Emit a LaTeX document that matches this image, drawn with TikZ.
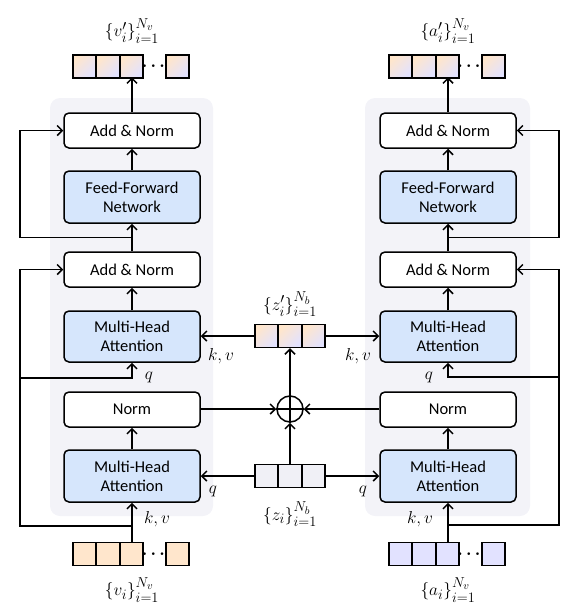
\documentclass[tikz,border=0pt]{standalone}
\usepackage{amsmath}
\usepackage{fontspec}
\setmainfont{Carlito}
\usepackage{tikz}
\usetikzlibrary{arrows.meta,calc}

\DeclareMathSizes{18}{18}{13.5}{10.5}

\definecolor{panelbg}{RGB}{243,243,248}
\definecolor{attblue}{RGB}{214,230,252}
\definecolor{tokorange}{RGB}{255,230,204}
\definecolor{toklav}{RGB}{226,226,255}
\definecolor{tokgray}{RGB}{240,240,246}

\newcommand{\tokset}[2]{$\{#1\}_{i=1}^{N_{#2}}$}

\tikzset{
  blk/.style={draw, rounded corners=5pt, line width=1.5pt, minimum width=136pt,
    align=center, fill=white, font=\fontsize{16.5}{19}\selectfont},
  thinblk/.style={blk, minimum height=35pt},
  attblk/.style={blk, fill=attblue, minimum height=52pt},
  tok/.style={draw, line width=1.4pt, minimum size=23pt, inner sep=0pt},
  tokmix/.style={tok, top color=tokorange, bottom color=toklav, shading angle=45},
  tokv/.style={tok, fill=tokorange},
  toka/.style={tok, fill=toklav},
  tokz/.style={tok, fill=tokgray},
  lbl/.style={font=\fontsize{17}{20}\selectfont, inner sep=0pt},
  setlbl/.style={font=\fontsize{18}{21}\selectfont, inner sep=0pt},
  conn/.style={line width=1.5pt, -{Straight Barb[length=5pt,width=10pt]}},
}

\begin{document}
\begin{tikzpicture}[x=1pt, y=-1pt]
  \useasboundingbox (0,0) rectangle (576,608);

  % panels
  \fill[panelbg, rounded corners=10pt] (50,98) rectangle (213,516);
  \fill[panelbg, rounded corners=10pt] (365,98) rectangle (530,516);

  % Left column
  \node[thinblk] (lan1) at (132,130.5) {Add \& Norm};
  \node[attblk] (lffn) at (132,197) {Feed-Forward\\Network};
  \node[thinblk] (lan2) at (132,269.5) {Add \& Norm};
  \node[attblk, minimum height=51pt] (lmha2) at (132,336.5) {Multi-Head\\Attention};
  \node[thinblk] (lnorm) at (132,409.5) {Norm};
  \node[attblk] (lmha1) at (132,476) {Multi-Head\\Attention};

  % Right column
  \node[thinblk] (ran1) at (448,130.5) {Add \& Norm};
  \node[attblk] (rffn) at (448,197) {Feed-Forward\\Network};
  \node[thinblk] (ran2) at (448,269.5) {Add \& Norm};
  \node[attblk, minimum height=51pt] (rmha2) at (448,336.5) {Multi-Head\\Attention};
  \node[thinblk] (rnorm) at (448,409.5) {Norm};
  \node[attblk] (rmha1) at (448,476) {Multi-Head\\Attention};

  % token rows
  \foreach \i/\x in {1/84.5, 2/108, 3/131.5, 4/177.5} {
    \node[tokmix] (vo\i) at (\x,66.5) {};
    \node[tokv] (vi\i) at (\x,554) {};
  }
  \foreach \i/\x in {1/400.5, 2/424, 3/447.5, 4/493.5} {
    \node[tokmix] (ao\i) at (\x,66.5) {};
    \node[toka] (ai\i) at (\x,554) {};
  }
  \node[lbl] (vodots) at (155,66.5) {$\boldsymbol{\cdots}$};
  \node[lbl] (vidots) at (155,554) {$\boldsymbol{\cdots}$};
  \node[lbl] (aodots) at (470.5,66.5) {$\boldsymbol{\cdots}$};
  \node[lbl] (aidots) at (470.5,554) {$\boldsymbol{\cdots}$};
  \foreach \i/\x in {1/266.5, 2/290, 3/313.5} {
    \node[tokmix] (zo\i) at (\x,336) {};
    \node[tokz] (z\i) at (\x,476) {};
  }

  % fusion
  \node[draw, circle, line width=1.5pt, minimum size=26pt, inner sep=0pt] (sum) at (290,409) {};
  \draw[line width=1.5pt] (sum.north) -- (sum.south) (sum.west) -- (sum.east);

  % set labels
  \node[setlbl] (vol) at (132,31) {\tokset{v'_i}{v}};
  \node[setlbl] (aol) at (448,31) {\tokset{a'_i}{v}};
  \node[setlbl] (zol) at (290,304) {\tokset{z'_i}{b}};
  \node[setlbl] (zl) at (290,514) {\tokset{z_i}{b}};
  \node[setlbl] (vl) at (132,590) {\tokset{v_i}{v}};
  \node[setlbl] (al) at (448,590) {\tokset{a_i}{v}};

  % q / k,v labels
  \node[lbl] (lqa) at (149,377) {$q$};
  \node[lbl] (lkv1) at (157,519) {$k,v$};
  \node[lbl] (lq1) at (213,491) {$q$};
  \node[lbl] (lkv2) at (221,356) {$k,v$};
  \node[lbl] (rqa) at (429,377) {$q$};
  \node[lbl] (rkv1) at (420,519) {$k,v$};
  \node[lbl] (rq1) at (363,491) {$q$};
  \node[lbl] (rkv2) at (358,356) {$k,v$};

  % main flow
  \foreach \s in {l,r} {
    \draw[conn] (\s an1.north) -- ++(0,-35);
    \draw[conn] (\s ffn.north) -- (\s an1.south);
    \draw[conn] (\s an2.north) -- (\s ffn.south);
    \draw[conn] (\s mha2.north) -- (\s an2.south);
    \draw[conn] (\s mha1.north) -- (\s norm.south);
    \draw[conn] (\s mha1.south) ++(0,40) -- (\s mha1.south);
  }

  % residual paths
  \coordinate (lrail) at (20,0);
  \coordinate (rrail) at (559,0);
  \coordinate (lj1) at ($(lffn.south)!0.5!(lan2.north)$);
  \coordinate (rj1) at ($(rffn.south)!0.5!(ran2.north)$);
  \coordinate (lj2) at (132,526);
  \coordinate (rj2) at (448,525);
  \coordinate (lq) at (20,378);
  \coordinate (rq) at (559,377);
  \draw[conn] (lj1) -- (lj1 -| lrail) |- (lan1.west);
  \draw[conn] (lj2) -- (lj2 -| lrail) |- (lan2.west);
  \draw[conn] (lq) -| (lmha2.south);
  \draw[conn] (rj1) -- (rj1 -| rrail) |- (ran1.east);
  \draw[conn] (rj2) -- (rj2 -| rrail) |- (ran2.east);
  \draw[conn] (rq) -| (rmha2.south);

  % cross links
  \draw[conn] (zo1.west) -- (zo1.west -| lmha2.east);
  \draw[conn] (zo3.east) -- (zo3.east -| rmha2.west);
  \draw[conn] (sum.north) -- (zo2.south);
  \draw[conn] (z2.north) -- (sum.south);
  \draw[conn] (lnorm.east |- sum.west) -- (sum.west);
  \draw[conn] (rnorm.west |- sum.east) -- (sum.east);
  \draw[conn] (z1.west) -- (z1.west -| lmha1.east);
  \draw[conn] (z3.east) -- (z3.east -| rmha1.west);
\end{tikzpicture}
\end{document}
